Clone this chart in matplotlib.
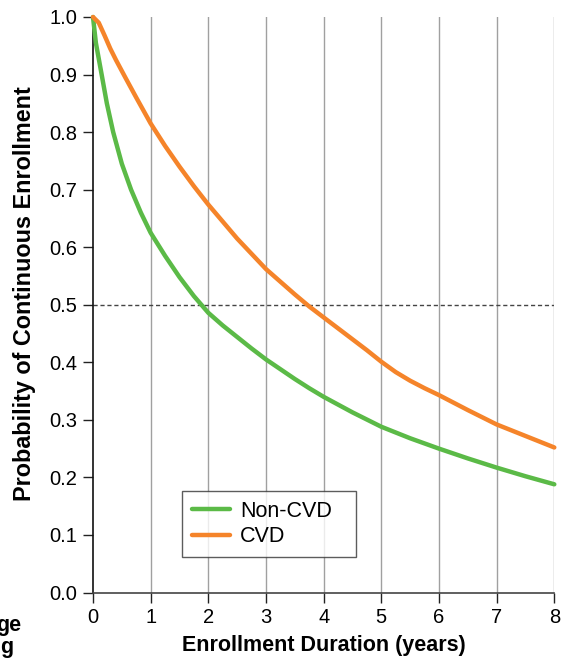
import matplotlib
matplotlib.use("Agg")
import matplotlib.pyplot as plt

plt.rcParams['font.family'] = ['Liberation Sans', 'DejaVu Sans']

# Data
noncvd_x = [0, 0.05, 0.15, 0.24, 0.35, 0.5, 0.66, 0.83, 1.0, 1.25, 1.5, 1.75, 2.0, 2.25, 2.5, 2.75, 3.0, 3.25, 3.5, 3.75, 4.0, 4.5, 5.0, 5.5, 6.0, 6.5, 7.0, 7.5, 8.0]
noncvd_y = [1.0, 0.955, 0.9, 0.85, 0.8, 0.745, 0.7, 0.66, 0.625, 0.585, 0.548, 0.515, 0.486, 0.464, 0.444, 0.424, 0.405, 0.388, 0.371, 0.355, 0.340, 0.313, 0.288, 0.268, 0.25, 0.233, 0.217, 0.202, 0.188]
cvd_x = [0, 0.1, 0.2, 0.3, 0.4, 0.56, 0.75, 1.0, 1.25, 1.5, 1.75, 2.0, 2.5, 3.0, 3.25, 3.5, 3.75, 4.0, 4.25, 4.5, 4.75, 5.0, 5.25, 5.5, 5.75, 6.0, 6.5, 7.0, 7.5, 8.0]
cvd_y = [1.0, 0.99, 0.968, 0.945, 0.925, 0.895, 0.86, 0.815, 0.776, 0.74, 0.706, 0.674, 0.615, 0.562, 0.54, 0.518, 0.497, 0.478, 0.459, 0.44, 0.421, 0.401, 0.383, 0.368, 0.355, 0.343, 0.317, 0.292, 0.272, 0.252]
x_ticks = [0, 1, 2, 3, 4, 5, 6, 7, 8]
y_ticks = [0.0, 0.1, 0.2, 0.3, 0.4, 0.5, 0.6, 0.7, 0.8, 0.9, 1.0]
median_level = 0.5

green = '#5BBA47'
orange = '#F5842A'

fig = plt.figure(figsize=(5.68, 6.59), dpi=100)
ax = fig.add_axes([93/568, 1 - 592.5/659, (554.3 - 93)/568, (592.5 - 17)/659])

for xv in x_ticks[1:]:
    ax.axvline(xv, color='#a0a0a0', lw=1.0, zorder=1)
ax.axhline(median_level, color='#444444', lw=1.0, ls=(0, (3, 2)), zorder=1)

ax.plot(noncvd_x, noncvd_y, color=green, lw=3.2, label='Non-CVD', solid_capstyle='round', solid_joinstyle='round', clip_on=False, zorder=3)
ax.plot(cvd_x, cvd_y, color=orange, lw=3.2, label='CVD', solid_capstyle='round', solid_joinstyle='round', clip_on=False, zorder=4)

ax.set_xlim(0, 8)
ax.set_ylim(0, 1.0)
ax.set_xticks(x_ticks)
ax.set_yticks(y_ticks)
ax.set_yticklabels([f"{v:.1f}" for v in y_ticks])
ax.tick_params(axis='both', direction='out', length=7.5, width=1.0, color='#222222', labelsize=14.5, pad=4)

for s in ['top', 'right']:
    ax.spines[s].set_visible(False)
ax.spines['left'].set_color('#111111')
ax.spines['bottom'].set_color('#444444')
ax.spines['left'].set_linewidth(1.2)
ax.spines['bottom'].set_linewidth(1.2)

ax.set_xlabel('Enrollment Duration (years)', fontsize=15.5, fontweight='bold')
ax.set_ylabel('Probability of Continuous Enrollment', fontsize=16.8, fontweight='bold')
ax.xaxis.set_label_coords((324 - 93) / 461.3, (592.5 - 646) / 575.5)
ax.yaxis.set_label_coords((25 - 93) / 461.3, (592.5 - 294) / 575.5)
ax.xaxis.label.set_va('center')
ax.yaxis.label.set_va('center')

x0 = (182 - 93) / 461.3
y_top = (592.5 - 491) / 575.5
w = (356 - 182) / 461.3
leg = ax.legend(loc='upper left', bbox_to_anchor=(x0, y_top, w, 0.0001),
                mode='expand', fontsize=15.5, frameon=True, fancybox=False, edgecolor='#333333',
                handlelength=1.8, borderaxespad=0, borderpad=0.45, labelspacing=0.22, handletextpad=0.45)
leg.get_frame().set_linewidth(1.0)

fig.text(21/568, 1 - 625/659, 'ge', ha='right', va='center', fontsize=15.5, fontweight='bold')
fig.text(13/568, 1 - 648/659, 'g', ha='right', va='center', fontsize=15.5, fontweight='bold')

fig.savefig('out.png', dpi=100)
